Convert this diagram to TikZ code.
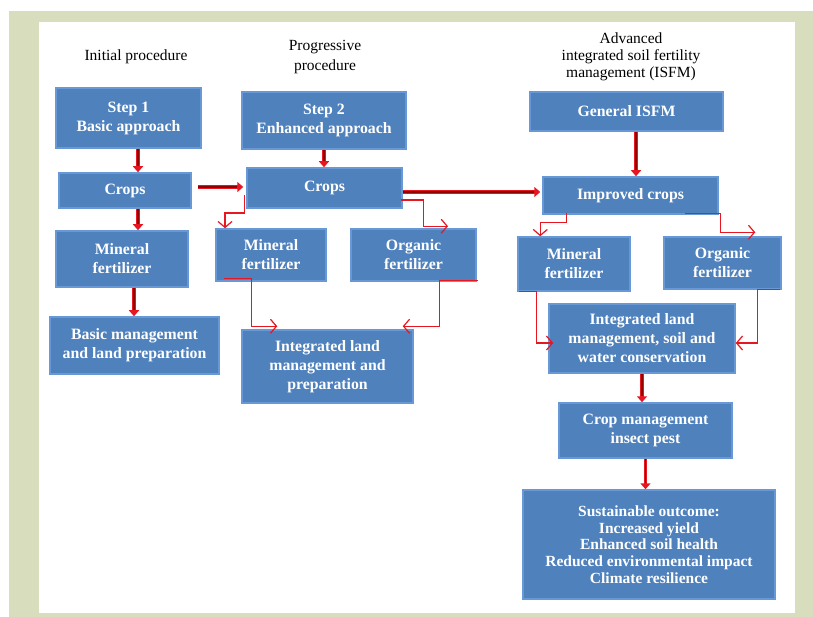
\documentclass[tikz,border=0pt]{standalone}
\usepackage{fontspec}
\setmainfont{Liberation Serif}
\usetikzlibrary{arrows.meta}

\definecolor{framegreen}{RGB}{216,222,189}
\definecolor{boxblue}{RGB}{79,129,189}
\definecolor{boxedge}{RGB}{104,152,214}
\definecolor{arrowred}{RGB}{232,22,32}

\begin{document}
\begin{tikzpicture}[x=1pt, y=-1pt,
    box/.style={draw=boxedge, fill=boxblue, line width=1.5pt, text=white, align=center,
        font=\fontsize{15.8}{19}\selectfont\bfseries, inner sep=0pt},
    head/.style={align=center, font=\fontsize{15.5}{18}\selectfont},
    bigarrow/.style={draw=arrowred, line width=3.6pt, -{Triangle[length=6pt,width=10pt]},
        postaction={draw=red!55!black, line width=1.3pt, shorten >=6pt, -{}}},
    thinarrow/.style={draw=arrowred, line width=1.2pt, -{Straight Barb[length=6pt,width=14pt]}}]

        % Frame
        \useasboundingbox (0,0) rectangle (813,617);
        \fill[framegreen] (9,11) rectangle (813,617);
        \fill[white] (39,22) rectangle (795,613);

        % Column headings
        \node[head] (initial) at (136,57) {Initial procedure};
        \node[head, font=\fontsize{15.5}{20}\selectfont] (progressive) at (325,57) {Progressive\\procedure};
        \node[head, font=\fontsize{15.5}{17}\selectfont] (advanced) at (631,57) {Advanced\\integrated soil fertility\\management (ISFM)};

        % 1. Initial procedure
        \node[box, minimum width=145pt, minimum height=60pt] (step1) at (128.5,118) {Step 1\\Basic approach};
        \node[box, minimum width=132pt, minimum height=35pt] (crops1) at (125,190.5) {Crops};
        \node[box, minimum width=132pt, minimum height=56pt] (mineral1) at (122,259) {Mineral\\fertilizer};
        \node[box, minimum width=169pt, minimum height=57pt] (basic) at (134.5,345.5) {Basic management\\and land preparation};

        % 2. Progressive procedure
        \node[box, minimum width=164pt, minimum height=57pt] (step2) at (324,120.5) {Step 2\\Enhanced approach};
        \node[box, minimum width=155pt, minimum height=40pt] (crops2) at (324.5,188) {Crops};
        \node[box, minimum width=110pt, minimum height=52pt] (mineral2) at (271,255) {Mineral\\fertilizer};
        \node[box, minimum width=125pt, minimum height=52pt] (organic2) at (413.5,255) {Organic\\fertilizer};
        \node[box, minimum width=171pt, minimum height=73pt] (integ2) at (327.5,366.5) {Integrated land\\management and\\preparation};

        % 3. Advanced ISFM
        \node[box, minimum width=193pt, minimum height=39pt] (general) at (626.5,111.5) {General ISFM};
        \node[box, minimum width=175pt, minimum height=37pt] (improved) at (630.5,195.5) {Improved crops};
        \node[box, minimum width=112pt, minimum height=54pt] (mineral3) at (574,264) {Mineral\\fertilizer};
        \node[box, minimum width=117pt, minimum height=52pt] (organic3) at (722.5,263) {Organic\\fertilizer};
        \node[box, minimum width=186pt, minimum height=69pt] (integ3) at (642,338.5) {Integrated land\\management, soil and\\water conservation};
        \node[box, minimum width=173pt, minimum height=55pt] (cropmgmt) at (645.5,430.5) {Crop management\\insect pest};
        \node[box, minimum width=252pt, minimum height=109pt, font=\fontsize{15.5}{16.7}\selectfont\bfseries] (outcome) at (649,544.5)
            {Sustainable outcome:\\Increased yield\\Enhanced soil health\\Reduced environmental impact\\Climate resilience};

        % Thick arrows
        \draw[bigarrow] ([xshift=9.5pt]step1.south) -- ([xshift=9.5pt]step1.south |- crops1.north);
        \draw[bigarrow] ([xshift=13pt]crops1.south) -- ([xshift=13pt]crops1.south |- mineral1.north);
        \draw[bigarrow] ([xshift=12pt]mineral1.south) -- ([xshift=12pt]mineral1.south |- basic.north);
        \draw[bigarrow] ([xshift=6pt,yshift=3.5pt]crops1.east) -- ([xshift=-3pt,yshift=3.5pt]crops1.east -| crops2.west);
        \draw[bigarrow] (step2.south) -- (step2.south |- crops2.north);
        \draw[bigarrow] ([yshift=-4pt]crops2.east) -- ([xshift=-2pt,yshift=-4pt]crops2.east -| improved.west);
        \draw[bigarrow] ([xshift=9.5pt]general.south) -- ([xshift=9.5pt]general.south |- improved.north);
        \draw[bigarrow] (integ3.south) -- (integ3.south |- cropmgmt.north);
        \draw[bigarrow] (cropmgmt.south) -- (cropmgmt.south |- outcome.north);

        % Thin elbow arrows
        \draw[thinarrow] ([xshift=-2pt,yshift=-7pt]crops2.west) -- ++(0,18) -| ([xshift=-46pt]mineral2.north);
        \draw[thinarrow] ([xshift=-2pt,yshift=-12pt]crops2.east) -- ++(23,0) |- ([xshift=34.5pt,yshift=2pt]organic2.north);
        \draw[thinarrow] ([xshift=9pt,yshift=3pt]mineral2.south west) -- ++(27,0) |- ([xshift=36pt,yshift=3pt]integ2.north west);
        \draw[thinarrow] ([xshift=1pt,yshift=1pt]organic2.south east) -- ++(-38,0) |- ([xshift=-11pt,yshift=3pt]integ2.north east);
        \draw[thinarrow] ([xshift=24pt,yshift=2pt]improved.south west) -- ++(0,10) -| ([xshift=23pt]mineral3.north west);
        \draw[thinarrow] ([xshift=-34pt,yshift=1pt]improved.south east) -- ++(36,0) |- ([xshift=92pt,yshift=4pt]organic3.north west);
        \draw[thinarrow] ([xshift=2pt]mineral3.south west) -- ++(17,0) |- ([xshift=5pt,yshift=-4.5pt]integ3.west);
        \draw[thinarrow] ([xshift=-2pt]organic3.south east) -- ++(-22,0) |- ([yshift=-4.5pt]integ3.east);

\end{tikzpicture}
\end{document}
